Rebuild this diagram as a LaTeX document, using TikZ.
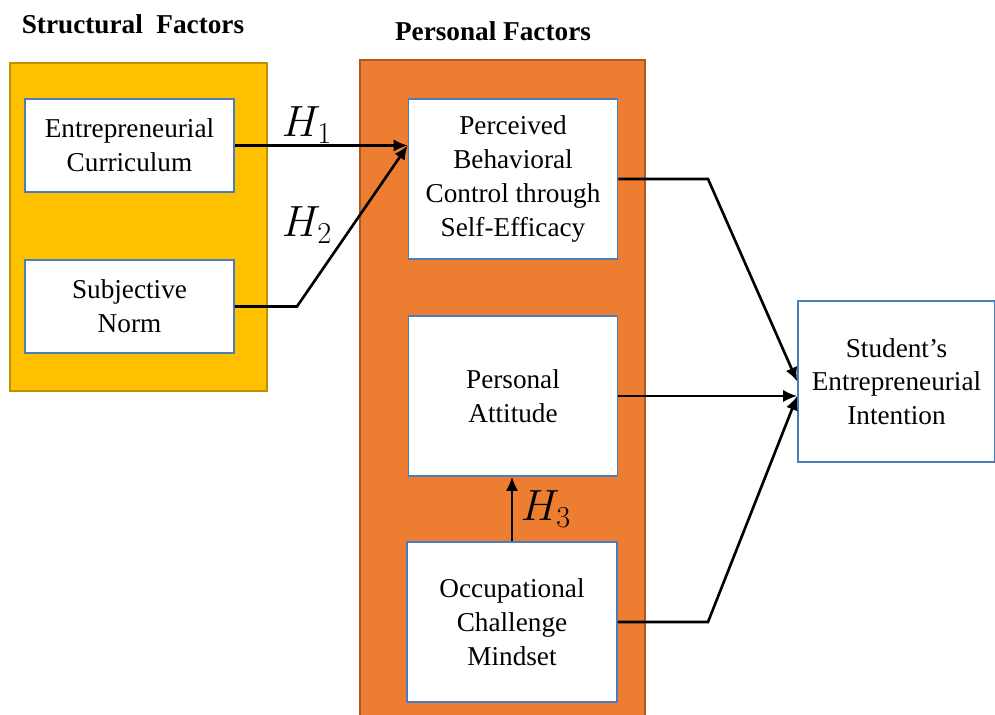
\documentclass[tikz,border=0pt]{standalone}
\usepackage{fontspec}
\setmainfont{Liberation Serif}
\usetikzlibrary{arrows.meta}
\definecolor{structyellow}{HTML}{FFC000}
\definecolor{structedge}{HTML}{BF9000}
\definecolor{persorange}{HTML}{ED7D31}
\definecolor{persedge}{HTML}{AE5A21}
\definecolor{boxedge}{HTML}{4A7EBB}
\tikzset{
  factorbox/.style={draw=boxedge,line width=0.9pt,fill=white,align=center,
    font=\fontsize{15.5}{19.2}\selectfont,inner sep=2pt},
  smallbox/.style={factorbox,minimum width=4.18cm,minimum height=1.86cm},
  tallbox/.style={factorbox,minimum width=4.18cm,minimum height=3.2cm},
  hyplabel/.style={font=\fontsize{24}{28}\selectfont},
  grouptitle/.style={font=\fontsize{15.5}{19}\selectfont\bfseries},
  arr/.style={line width=1.5pt,-{Latex[length=8pt,width=7pt]}},
}
\begin{document}
\begin{tikzpicture}[x=0.02cm,y=-0.02cm]
  \useasboundingbox (0,0) rectangle (995,715);
  % group panels
  \draw[structedge,fill=structyellow,line width=0.8pt] (10,63) rectangle (267,391);
  \draw[persedge,fill=persorange,line width=0.8pt] (360,60) rectangle (645,718);
  \node[grouptitle] (sftitle) at (133,24) {Structural\ \ Factors};
  \node[grouptitle] (pftitle) at (493,31) {Personal Factors};
  % factor boxes
  \node[smallbox] (curr) at (129.5,145.5) {Entrepreneurial\\Curriculum};
  \node[smallbox] (norm) at (129.5,306.5) {Subjective\\Norm};
  \node[tallbox] (pbc) at (513,179) {Perceived\\Behavioral\\Control through\\Self-Efficacy};
  \node[tallbox] (att) at (513,396) {Personal\\Attitude};
  \node[tallbox,minimum width=4.2cm] (ocm) at (512,622) {Occupational\\Challenge\\Mindset};
  \node[factorbox,minimum width=3.94cm,minimum height=3.22cm] (sei) at (896.5,381.5)
    {Student's\\Entrepreneurial\\Intention};
  % hypotheses
  \coordinate (pbcin) at (pbc.west |- curr.east);
  \coordinate (seiin) at (sei.west |- att.east);
  \draw[arr] (curr.east) -- (pbcin);
  \draw[arr] (norm.east) -- (297,306.5) -- (pbcin);
  \draw[arr] (ocm.north) -- (ocm.north |- att.south);
  \node[hyplabel] (h1) at (307,125) {$H_1$};
  \node[hyplabel] (h2) at (307,225) {$H_2$};
  \node[hyplabel] (h3) at (546,509) {$H_3$};
  % paths to intention
  \draw[arr] (pbc.east) -- (708,179) -- (sei.west);
  \draw[arr] (att.east) -- (seiin);
  \draw[arr] (ocm.east) -- (708,622) -- (seiin);
\end{tikzpicture}
\end{document}
